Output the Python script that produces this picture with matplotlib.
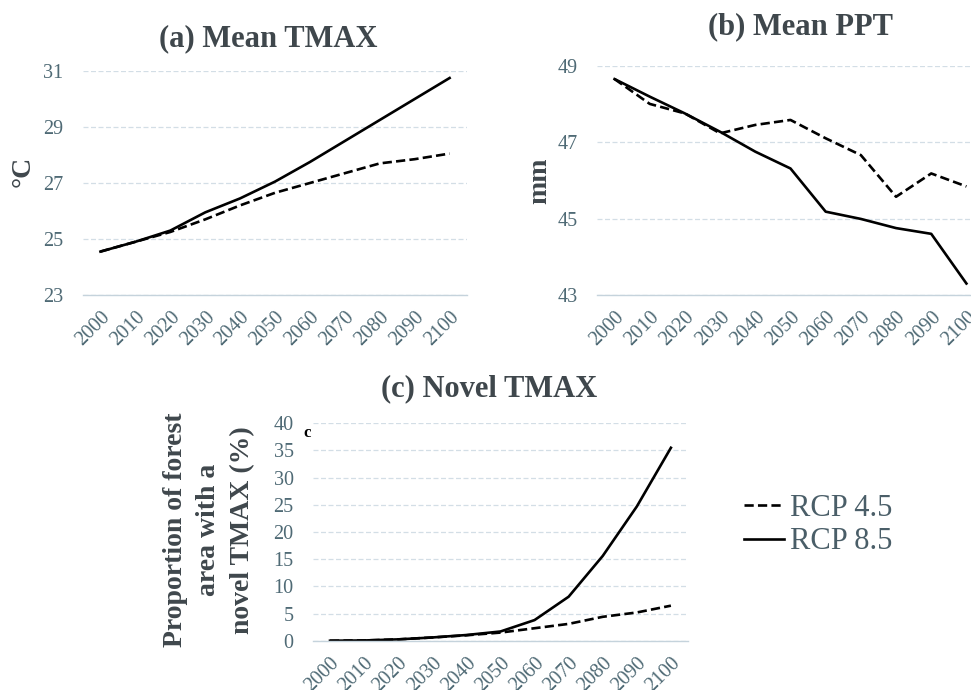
import matplotlib

matplotlib.use("Agg")

import matplotlib.pyplot as plt

years = ["2000", "2010", "2020", "2030", "2040", "2050", "2060", "2070", "2080", "2090", "2100"]

tmax_rcp45 = [24.55, 24.9, 25.25, 25.7, 26.2, 26.65, 27.0, 27.35, 27.7, 27.85, 28.05]
tmax_rcp85 = [24.55, 24.9, 25.3, 25.95, 26.45, 27.05, 27.75, 28.5, 29.25, 30.0, 30.75]

ppt_rcp45 = [48.65, 48.0, 47.75, 47.23, 47.45, 47.58, 47.1, 46.66, 45.57, 46.18, 45.84]
ppt_rcp85 = [48.65, 48.19, 47.75, 47.27, 46.75, 46.31, 45.18, 44.99, 44.75, 44.6, 43.3]

novel_rcp45 = [0.0, 0.05, 0.25, 0.6, 1.0, 1.5, 2.3, 3.1, 4.4, 5.2, 6.45]
novel_rcp85 = [0.0, 0.05, 0.25, 0.6, 1.05, 1.7, 3.8, 8.1, 15.6, 24.7, 35.5]

SERIF = "Liberation Serif"
TITLE_COLOR = "#3f474c"
TICK_COLOR = "#4f6a75"
GRID_COLOR = "#d3dee6"

plt.rcParams["font.family"] = SERIF


def style_axis(ax, yticks, ylim):
    x = range(len(years))
    ax.set_xlim(-0.5, len(years) - 0.5)
    ax.set_ylim(*ylim)
    ax.set_yticks(yticks)
    ax.set_xticks(list(x))
    ax.set_xticklabels(years, rotation=45, ha="right", rotation_mode="anchor")
    ax.tick_params(length=0, labelsize=14.5, labelcolor=TICK_COLOR)
    ax.tick_params(axis="y", pad=14)
    ax.tick_params(axis="x", pad=9)
    for side in ["top", "right", "left"]:
        ax.spines[side].set_visible(False)
    ax.spines["bottom"].set_color("#c5d3dc")
    ax.spines["bottom"].set_linewidth(1.0)
    ax.grid(axis="y", color=GRID_COLOR, linestyle=(0, (4, 2)), linewidth=0.9)
    ax.set_axisbelow(True)


def draw_lines(ax, rcp45, rcp85):
    x = range(len(years))
    l45, = ax.plot(x, rcp45, color="black", linewidth=1.9, dashes=(3.5, 1.6),
                   label="RCP 4.5")
    l85, = ax.plot(x, rcp85, color="black", linewidth=1.9, label="RCP 8.5")
    return l45, l85


fig = plt.figure(figsize=(9.71, 6.9), dpi=100)

ax_a = fig.add_axes([0.0855, 0.5725, 0.3955, 0.3246])
ax_b = fig.add_axes([0.6148, 0.5725, 0.3986, 0.3323])
ax_c = fig.add_axes([0.3223, 0.0714, 0.3862, 0.3151])

style_axis(ax_a, [23, 25, 27, 29, 31], (23, 31))
draw_lines(ax_a, tmax_rcp45, tmax_rcp85)

style_axis(ax_b, [43, 45, 47, 49], (43, 49))
draw_lines(ax_b, ppt_rcp45, ppt_rcp85)

style_axis(ax_c, list(range(0, 41, 5)), (0, 40))
handles = draw_lines(ax_c, novel_rcp45, novel_rcp85)

title_kw = dict(fontsize=22, fontweight="bold", color=TITLE_COLOR, ha="center", va="center")
fig.text(268 / 971, 1 - 39 / 690, "(a) Mean TMAX", **title_kw)
fig.text(800 / 971, 1 - 27 / 690, "(b) Mean PPT", **title_kw)
fig.text(489 / 971, 1 - 389 / 690, "(c) Novel TMAX", **title_kw)

ylab_kw = dict(fontsize=20, fontweight="bold", color=TITLE_COLOR, rotation=90,
               ha="center", va="center", linespacing=1.45)
fig.text(23 / 971, 1 - 171 / 690, "°C", **ylab_kw)
fig.text(540 / 971, 1 - 181 / 690, "mm", **ylab_kw)
fig.text(209 / 971, 1 - 530 / 690, "Proportion of forest\narea with a\nnovel TMAX (%)", **ylab_kw)

fig.text(307 / 971, 1 - 433 / 690, "c", fontsize=12, fontweight="bold", color="black",
         ha="center", va="center")

fig.legend(handles=handles, loc="center left", bbox_to_anchor=(729 / 971, 1 - 525 / 690),
           frameon=False, fontsize=22, handlelength=1.3, handletextpad=0.2,
           labelspacing=0.15, labelcolor="#4a5e68", borderpad=0)

fig.savefig("out.png", dpi=100)
plt.close(fig)
